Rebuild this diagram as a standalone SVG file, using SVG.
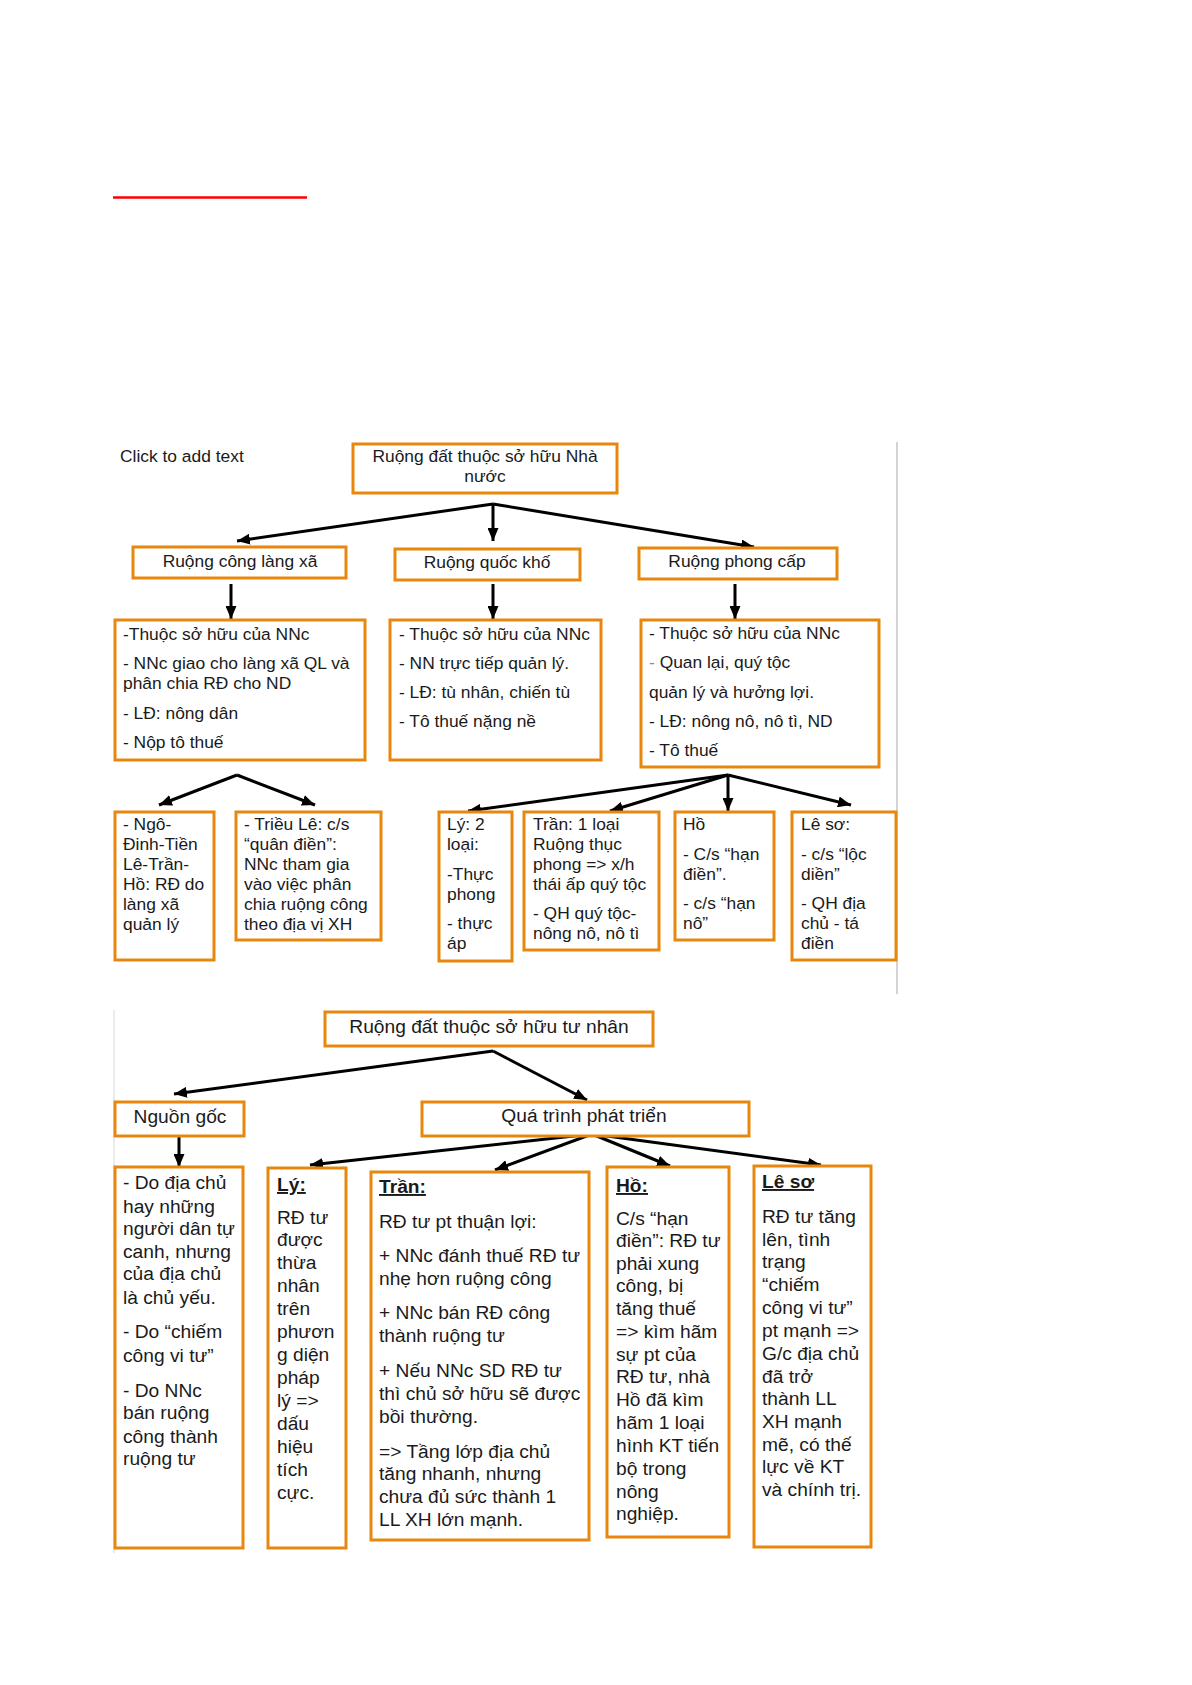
<svg xmlns="http://www.w3.org/2000/svg" width="1192" height="1685" viewBox="0 0 1192 1685">
<style>
.box{fill:#fff;stroke:#E8870E;stroke-width:3}
.t{font-family:"Liberation Sans",Arial,sans-serif;fill:#1a1a1a}
.a{font-size:17.4px}
.b{font-size:19.2px}
.c{text-anchor:middle}
.h{font-weight:bold;text-decoration:underline}
.conn line{stroke:#000;stroke-width:3;marker-end:url(#ah)}
.vline{stroke:#d4d4d4;stroke-width:2}
</style>
<defs>
<marker id="ah" markerUnits="userSpaceOnUse" markerWidth="13" markerHeight="11" refX="13" refY="5.5" orient="auto">
<path d="M0,0 L13,5.5 L0,11 z" fill="#000"/>
</marker>
</defs>
<rect width="1192" height="1685" fill="#fff"/>
<line x1="113" y1="197.5" x2="307" y2="197.5" stroke="#ff0000" stroke-width="2.5"/>
<line class="vline" x1="897" y1="442" x2="897" y2="994"/>
<line x1="114" y1="1010" x2="114" y2="1553" stroke="#e6e6e6" stroke-width="1.5"/>
<text class="t a" x="120" y="462">Click to add text</text>

<g id="connectors" class="conn">
<line x1="493" y1="504" x2="237" y2="541"/>
<line x1="493" y1="504" x2="493" y2="541"/>
<line x1="493" y1="504" x2="754" y2="547"/>
<line x1="231" y1="584" x2="231" y2="619"/>
<line x1="493" y1="584" x2="493" y2="619"/>
<line x1="735" y1="584" x2="735" y2="619"/>
<line x1="237" y1="775" x2="159" y2="805"/>
<line x1="237" y1="775" x2="315" y2="805"/>
<line x1="728" y1="775" x2="468" y2="811"/>
<line x1="728" y1="775" x2="610" y2="811"/>
<line x1="728" y1="775" x2="728" y2="811"/>
<line x1="728" y1="775" x2="851" y2="805"/>
<line x1="493" y1="1051" x2="174" y2="1094"/>
<line x1="493" y1="1051" x2="587" y2="1100"/>
<line x1="179" y1="1137" x2="179" y2="1167"/>
<line x1="592" y1="1134" x2="310" y2="1165"/>
<line x1="592" y1="1134" x2="495" y2="1170"/>
<line x1="592" y1="1134" x2="670" y2="1166"/>
<line x1="592" y1="1134" x2="821" y2="1165"/>
</g>

<g id="n-nhanuoc">
<rect class="box" x="353" y="444" width="264" height="49"/>
<text class="t a c" x="485" y="462">Ruộng đất thuộc sở hữu Nhà</text>
<text class="t a c" x="485" y="482">nước</text>
</g>
<g id="n-conglangxa">
<rect class="box" x="133" y="547" width="213" height="31"/>
<text class="t a c" x="240" y="567">Ruộng công làng xã</text>
</g>
<g id="n-quockho">
<rect class="box" x="395" y="549" width="185" height="31"/>
<text class="t a c" x="487" y="568">Ruộng quốc khố</text>
</g>
<g id="n-phongcap">
<rect class="box" x="639" y="548" width="198" height="31"/>
<text class="t a c" x="737" y="567">Ruộng phong cấp</text>
</g>

<g id="n-d1">
<rect class="box" x="115" y="620" width="250" height="140"/>
<text class="t a" x="123">
<tspan x="123" y="640">-Thuộc sở hữu của NNc</tspan>
<tspan x="123" y="669">- NNc giao cho làng xã QL và</tspan>
<tspan x="123" y="689">phân chia RĐ cho ND</tspan>
<tspan x="123" y="719">- LĐ: nông dân</tspan>
<tspan x="123" y="748">- Nộp tô thuế</tspan>
</text>
</g>
<g id="n-d2">
<rect class="box" x="390" y="620" width="211" height="140"/>
<text class="t a">
<tspan x="399" y="640">- Thuộc sở hữu của NNc</tspan>
<tspan x="399" y="669">- NN trực tiếp quản lý.</tspan>
<tspan x="399" y="698">- LĐ: tù nhân, chiến tù</tspan>
<tspan x="399" y="727">- Tô thuế nặng nề</tspan>
</text>
</g>
<g id="n-d3">
<rect class="box" x="641" y="620" width="238" height="147"/>
<text class="t a">
<tspan x="649" y="639">- Thuộc sở hữu của NNc</tspan>
<tspan x="649" y="668"><tspan fill="#8a8a8a">-</tspan> Quan lại, quý tộc</tspan>
<tspan x="649" y="698">quản lý và hưởng lợi.</tspan>
<tspan x="649" y="727">- LĐ: nông nô, nô tì, ND</tspan>
<tspan x="649" y="756">- Tô thuế</tspan>
</text>
</g>

<g id="n-ngo">
<rect class="box" x="115" y="812" width="99" height="148"/>
<text class="t a">
<tspan x="123" y="830">- Ngô-</tspan>
<tspan x="123" y="850">Đinh-Tiền</tspan>
<tspan x="123" y="870">Lê-Trần-</tspan>
<tspan x="123" y="890">Hồ: RĐ do</tspan>
<tspan x="123" y="910">làng xã</tspan>
<tspan x="123" y="930">quản lý</tspan>
</text>
</g>
<g id="n-trieule">
<rect class="box" x="236" y="812" width="145" height="128"/>
<text class="t a">
<tspan x="244" y="830">- Triều Lê: c/s</tspan>
<tspan x="244" y="850">“quân điền”:</tspan>
<tspan x="244" y="870">NNc tham gia</tspan>
<tspan x="244" y="890">vào việc phân</tspan>
<tspan x="244" y="910">chia ruộng công</tspan>
<tspan x="244" y="930">theo địa vị XH</tspan>
</text>
</g>
<g id="n-ly1">
<rect class="box" x="439" y="812" width="73" height="149"/>
<text class="t a">
<tspan x="447" y="830">Lý: 2</tspan>
<tspan x="447" y="850">loại:</tspan>
<tspan x="447" y="880">-Thực</tspan>
<tspan x="447" y="900">phong</tspan>
<tspan x="447" y="929">- thực</tspan>
<tspan x="447" y="949">áp</tspan>
</text>
</g>
<g id="n-tran1">
<rect class="box" x="524" y="812" width="135" height="138"/>
<text class="t a">
<tspan x="533" y="830">Trần: 1 loại</tspan>
<tspan x="533" y="850">Ruộng thục</tspan>
<tspan x="533" y="870">phong =&gt; x/h</tspan>
<tspan x="533" y="890">thái ấp quý tộc</tspan>
<tspan x="533" y="919">- QH quý tộc-</tspan>
<tspan x="533" y="939">nông nô, nô tì</tspan>
</text>
</g>
<g id="n-ho1">
<rect class="box" x="675" y="812" width="99" height="128"/>
<text class="t a">
<tspan x="683" y="830">Hồ</tspan>
<tspan x="683" y="860">- C/s “hạn</tspan>
<tspan x="683" y="880">điền”.</tspan>
<tspan x="683" y="909">- c/s “hạn</tspan>
<tspan x="683" y="929">nô”</tspan>
</text>
</g>
<g id="n-leso1">
<rect class="box" x="792" y="812" width="104" height="148"/>
<text class="t a">
<tspan x="801" y="830">Lê sơ:</tspan>
<tspan x="801" y="860">- c/s “lộc</tspan>
<tspan x="801" y="880">diền”</tspan>
<tspan x="801" y="909">- QH địa</tspan>
<tspan x="801" y="929">chủ - tá</tspan>
<tspan x="801" y="949">điền</tspan>
</text>
</g>

<g id="n-tunhan">
<rect class="box" x="325" y="1012" width="328" height="34"/>
<text class="t b c" x="489" y="1033">Ruộng đất thuộc sở hữu tư nhân</text>
</g>
<g id="n-nguongoc">
<rect class="box" x="115" y="1102" width="129" height="34"/>
<text class="t b c" x="180" y="1123">Nguồn gốc</text>
</g>
<g id="n-quatrinh">
<rect class="box" x="422" y="1102" width="327" height="34"/>
<text class="t b c" x="584" y="1122">Quá trình phát triển</text>
</g>

<g id="n-ng-detail">
<rect class="box" x="115" y="1167" width="128" height="381"/>
<text class="t b">
<tspan x="123" y="1189">- Do địa chủ</tspan>
<tspan x="123" y="1213">hay những</tspan>
<tspan x="123" y="1235">người dân tự</tspan>
<tspan x="123" y="1258">canh, nhưng</tspan>
<tspan x="123" y="1280">của địa chủ</tspan>
<tspan x="123" y="1304">là chủ yếu.</tspan>
<tspan x="123" y="1338">- Do “chiếm</tspan>
<tspan x="123" y="1362">công vi tư”</tspan>
<tspan x="123" y="1397">- Do NNc</tspan>
<tspan x="123" y="1419">bán ruộng</tspan>
<tspan x="123" y="1443">công thành</tspan>
<tspan x="123" y="1465">ruộng tư</tspan>
</text>
</g>
<g id="n-ly2">
<rect class="box" x="268" y="1168" width="78" height="380"/>
<text class="t b">
<tspan class="h" x="277" y="1191">Lý:</tspan>
<tspan x="277" y="1224">RĐ tư</tspan>
<tspan x="277" y="1246">được</tspan>
<tspan x="277" y="1269">thừa</tspan>
<tspan x="277" y="1292">nhân</tspan>
<tspan x="277" y="1315">trên</tspan>
<tspan x="277" y="1338">phươn</tspan>
<tspan x="277" y="1361">g diện</tspan>
<tspan x="277" y="1384">pháp</tspan>
<tspan x="277" y="1407">lý =&gt;</tspan>
<tspan x="277" y="1430">dấu</tspan>
<tspan x="277" y="1453">hiệu</tspan>
<tspan x="277" y="1476">tích</tspan>
<tspan x="277" y="1499">cực.</tspan>
</text>
</g>
<g id="n-tran2">
<rect class="box" x="371" y="1172" width="218" height="368"/>
<text class="t b">
<tspan class="h" x="379" y="1193">Trần:</tspan>
<tspan x="379" y="1228">RĐ tư pt thuận lợi:</tspan>
<tspan x="379" y="1262">+ NNc đánh thuế RĐ tư</tspan>
<tspan x="379" y="1285">nhẹ hơn ruộng công</tspan>
<tspan x="379" y="1319">+ NNc bán RĐ công</tspan>
<tspan x="379" y="1342">thành ruộng tư</tspan>
<tspan x="379" y="1377">+ Nếu NNc SD RĐ tư</tspan>
<tspan x="379" y="1400">thì chủ sở hữu sẽ được</tspan>
<tspan x="379" y="1423">bồi thường.</tspan>
<tspan x="379" y="1458">=&gt; Tầng lớp địa chủ</tspan>
<tspan x="379" y="1480">tăng nhanh, nhưng</tspan>
<tspan x="379" y="1503">chưa đủ sức thành 1</tspan>
<tspan x="379" y="1526">LL XH lớn mạnh.</tspan>
</text>
</g>
<g id="n-ho2">
<rect class="box" x="607" y="1167" width="122" height="370"/>
<text class="t b">
<tspan class="h" x="616" y="1192">Hồ:</tspan>
<tspan x="616" y="1225">C/s “hạn</tspan>
<tspan x="616" y="1247">điền”: RĐ tư</tspan>
<tspan x="616" y="1270">phải xung</tspan>
<tspan x="616" y="1292">công, bị</tspan>
<tspan x="616" y="1315">tăng thuế</tspan>
<tspan x="616" y="1338">=&gt; kìm hãm</tspan>
<tspan x="616" y="1361">sự pt của</tspan>
<tspan x="616" y="1383">RĐ tư, nhà</tspan>
<tspan x="616" y="1406">Hồ đã kìm</tspan>
<tspan x="616" y="1429">hãm 1 loại</tspan>
<tspan x="616" y="1452">hình KT tiến</tspan>
<tspan x="616" y="1475">bộ trong</tspan>
<tspan x="616" y="1498">nông</tspan>
<tspan x="616" y="1520">nghiệp.</tspan>
</text>
</g>
<g id="n-leso2">
<rect class="box" x="754" y="1166" width="117" height="381"/>
<text class="t b">
<tspan class="h" x="762" y="1188">Lê sơ</tspan>
<tspan x="762" y="1223">RĐ tư tăng</tspan>
<tspan x="762" y="1246">lên, tình</tspan>
<tspan x="762" y="1268">trạng</tspan>
<tspan x="762" y="1291">“chiếm</tspan>
<tspan x="762" y="1314">công vi tư”</tspan>
<tspan x="762" y="1337">pt mạnh =&gt;</tspan>
<tspan x="762" y="1360">G/c địa chủ</tspan>
<tspan x="762" y="1383">đã trở</tspan>
<tspan x="762" y="1405">thành LL</tspan>
<tspan x="762" y="1428">XH mạnh</tspan>
<tspan x="762" y="1451">mẽ, có thế</tspan>
<tspan x="762" y="1473">lực về KT</tspan>
<tspan x="762" y="1496">và chính trị.</tspan>
</text>
</g>
</svg>
